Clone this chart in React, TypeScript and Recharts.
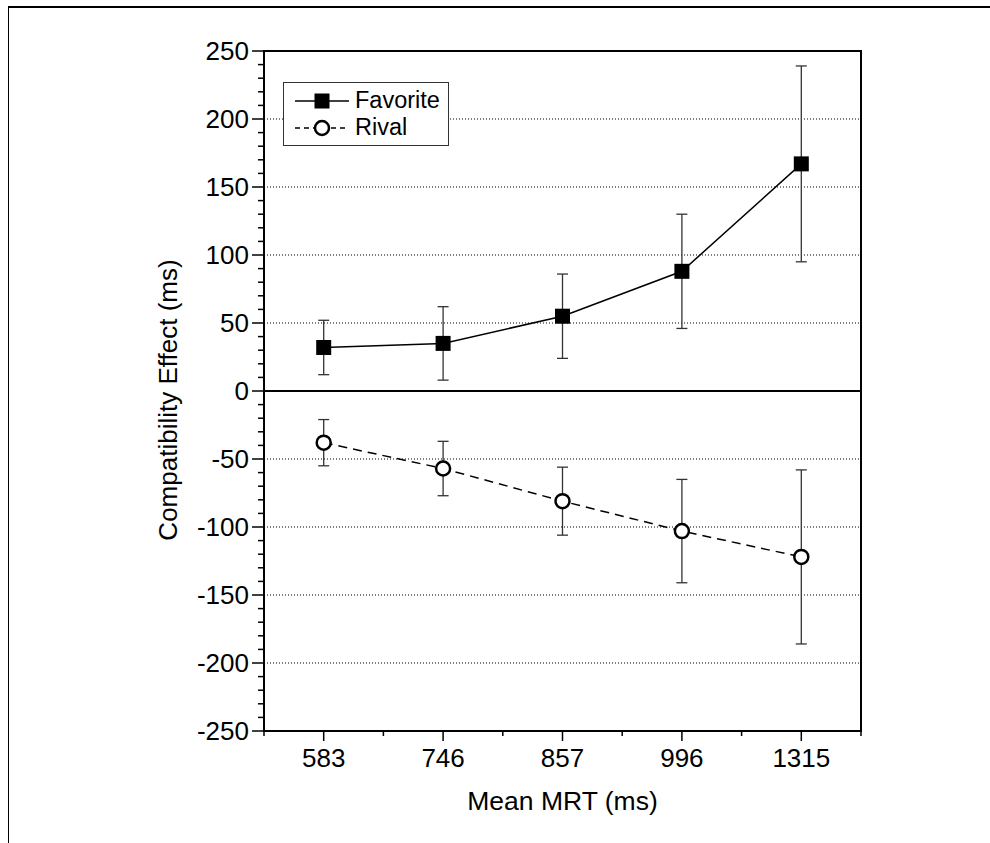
import React from 'react';
import {
    LineChart, Line, XAxis, YAxis, CartesianGrid, ErrorBar, ReferenceLine, ReferenceArea, Legend, Label
} from 'recharts';

// mean MRT bins (x categories)
const mrtLabels = ['583', '746', '857', '996', '1315'];

// compatibility effect, ms
const favorite = [32, 35, 55, 88, 167];
const favoriteErr = [20, 27, 31, 42, 72];
const rival = [-38, -57, -81, -103, -122];
const rivalErr = [17, 20, 25, 38, 64];

const yMajorTicks = [-250, -200, -150, -100, -50, 0, 50, 100, 150, 200, 250];

const seriesNames: Record<string, string> = { favorite: 'Favorite', rival: 'Rival' };

const data = mrtLabels.map((m, i) => ({
    mrt: m,
    favorite: favorite[i],
    favoriteErr: favoriteErr[i],
    rival: rival[i],
    rivalErr: rivalErr[i],
}));

const FONT = '"Liberation Sans", Arial, sans-serif';

const SquareDot = (props: any) => {
    const { cx, cy, index } = props;
    if (cx == null || cy == null) return null;
    return <rect key={'sq' + index} x={cx - 7.5} y={cy - 7.5} width={15} height={15} fill="#000" />;
};

const CircleDot = (props: any) => {
    const { cx, cy, index } = props;
    if (cx == null || cy == null) return null;
    return <circle key={'ci' + index} cx={cx} cy={cy} r={7} fill="#fff" stroke="#000" strokeWidth={2.5} />;
};

// y ticks every 10, labels only on the 50s
const YTick = (props: any) => {
    const { x, y, payload } = props;
    const v = payload.value;
    const major = v % 50 === 0;
    return (
        <g>
            <line x1={x - (major ? 12 : 6)} y1={y} x2={x} y2={y} stroke="#000" strokeWidth={1.5} />
            {major && (
                <text x={x - 15} y={y} textAnchor="end" dominantBaseline="central"
                    fontFamily={FONT} fontSize={26} fill="#000">{v}</text>
            )}
        </g>
    );
};

// major tick at category centre, minor ticks at the band edges
const XTick = (props: any) => {
    const { x, y, payload, index, width, visibleTicksCount } = props;
    const half = width / visibleTicksCount / 2;
    return (
        <g>
            <line x1={x} y1={y} x2={x} y2={y + 10} stroke="#000" strokeWidth={1.5} />
            <line x1={x - half} y1={y} x2={x - half} y2={y + 5} stroke="#000" strokeWidth={1.5} />
            {index === visibleTicksCount - 1 && (
                <line x1={x + half} y1={y} x2={x + half} y2={y + 5} stroke="#000" strokeWidth={1.5} />
            )}
            <text x={x} y={y + 27} textAnchor="middle" dominantBaseline="central"
                fontFamily={FONT} fontSize={26} fill="#000">{payload.value}</text>
        </g>
    );
};

const LegendBox = (props: any) => {
    const items = (props.payload || []).filter((p: any) => seriesNames[p.dataKey]);
    return (
        <div style={{ border: '1px solid #333', background: '#fff', padding: '4px 8px 4px 11px', fontFamily: FONT, fontSize: 23.5 }}>
            {items.map((p: any) => (
                <div key={p.dataKey} style={{ display: 'flex', alignItems: 'center', height: 27 }}>
                    <svg width={56} height={20} style={{ marginRight: 4 }}>
                        {p.dataKey === 'favorite' ? (
                            <>
                                <line x1={0} y1={10} x2={54} y2={10} stroke="#000" strokeWidth={1.5} />
                                <rect x={19.5} y={2.5} width={15} height={15} fill="#000" />
                            </>
                        ) : (
                            <>
                                <line x1={0} y1={10} x2={54} y2={10} stroke="#000" strokeWidth={1.5} strokeDasharray="5 4" />
                                <circle cx={27} cy={10} r={7} fill="#fff" stroke="#000" strokeWidth={2.5} />
                            </>
                        )}
                    </svg>
                    <span>{seriesNames[p.dataKey]}</span>
                </div>
            ))}
        </div>
    );
};

const YTitle = (props: any) => {
    const vb = props.viewBox || {};
    const x = vb.x - 6;
    const y = vb.y + vb.height / 2 + 9;
    return (
        <text x={x} y={y} transform={`rotate(-90 ${x} ${y})`} textAnchor="middle" dominantBaseline="central"
            fontFamily={FONT} fontSize={26} fill="#000">
            Compatibility Effect (ms)
        </text>
    );
};

const XTitle = (props: any) => {
    const vb = props.viewBox || {};
    return (
        <text x={vb.x + vb.width / 2} y={vb.y + 79} textAnchor="middle" fontFamily={FONT} fontSize={26.5} fill="#000">
            Mean MRT (ms)
        </text>
    );
};

export default function App() {
    return (
        <div style={{ position: 'absolute', left: 0, top: 0, width: 990, height: 843, background: '#fff' }}>
            <div style={{
                position: 'absolute', left: 8, top: 6, width: 982, height: 837,
                borderTop: '2px solid #000', borderLeft: '1.5px solid #000', boxSizing: 'border-box'
            }} />
            <div style={{ position: 'absolute', left: 0, top: 0 }}>
                <LineChart width={990} height={843} data={data} margin={{ top: 51, right: 129, bottom: 52, left: 174 }}>
                    <CartesianGrid vertical={false} horizontalValues={yMajorTicks}
                        stroke="#000" strokeWidth={1} strokeDasharray="1 2" />
                    <XAxis dataKey="mrt" scale="band" height={60} interval={0}
                        axisLine={{ stroke: '#000', strokeWidth: 2 }} tickLine={false}
                        tickSize={0} tickMargin={0} tick={XTick}>
                        <Label content={XTitle} />
                    </XAxis>
                    <YAxis type="number" domain={[-250, 250]} tickCount={51} interval={0} width={90}
                        axisLine={{ stroke: '#000', strokeWidth: 2 }} tickLine={false}
                        tickSize={0} tickMargin={0} tick={YTick}>
                        <Label content={YTitle} />
                    </YAxis>
                    <ReferenceArea y1={-250} y2={250} fill="none" fillOpacity={0} stroke="#000" strokeWidth={2} />
                    <ReferenceLine y={0} stroke="#000" strokeWidth={2} />
                    <Legend verticalAlign="middle" align="center" layout="horizontal" content={LegendBox}
                        wrapperStyle={{ left: 283, top: 82, width: 'auto', height: 'auto' }} />
                    <Line dataKey="favorite" name="Favorite" stroke="#000" strokeWidth={1.5}
                        dot={SquareDot} activeDot={false} isAnimationActive={false}>
                        <ErrorBar dataKey="favoriteErr" width={5.5} stroke="#333" strokeWidth={1.3} direction="y" />
                    </Line>
                    <Line dataKey="rival" name="Rival" stroke="#000" strokeWidth={1.5} strokeDasharray="9 6"
                        dot={CircleDot} activeDot={false} isAnimationActive={false}>
                        <ErrorBar dataKey="rivalErr" width={5.5} stroke="#333" strokeWidth={1.3} direction="y" />
                    </Line>
                </LineChart>
            </div>
        </div>
    );
}
